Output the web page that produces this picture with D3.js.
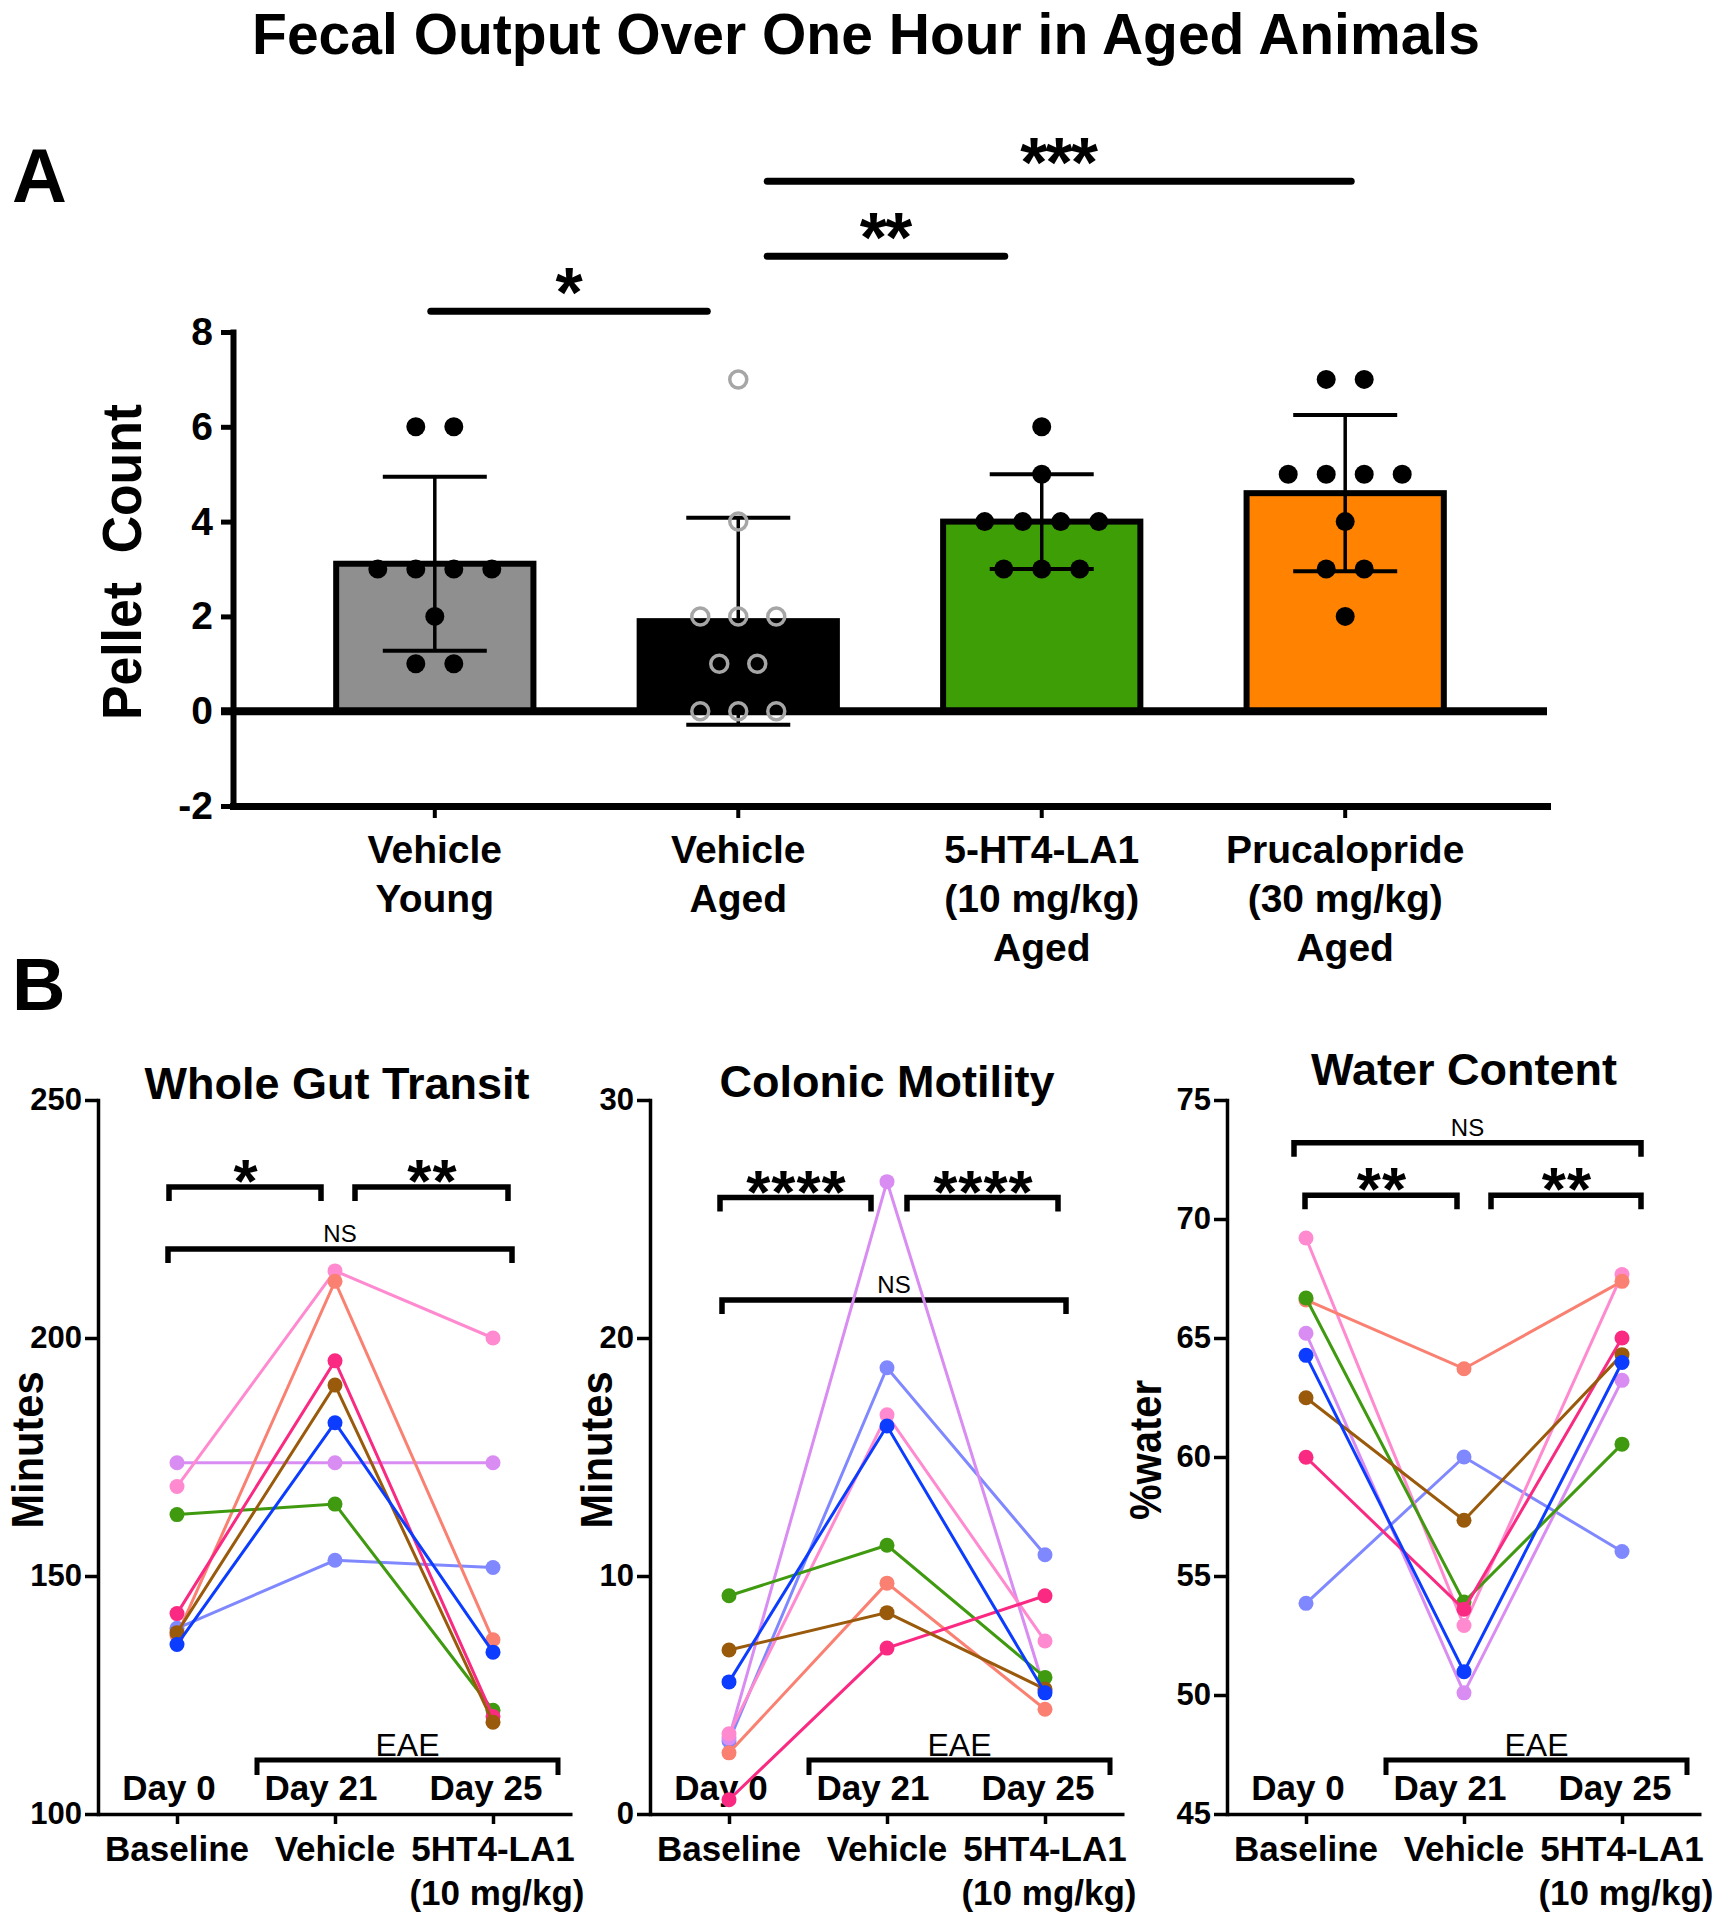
<!DOCTYPE html>
<html><head><meta charset="utf-8">
<script src="https://cdn.jsdelivr.net/npm/d3@7"></script>
<style>
body{margin:0;background:#fff}
svg{display:block}
text{font-family:"Liberation Sans",Arial,Helvetica,sans-serif;fill:#000}
</style>
</head><body>
<svg id="c" width="1729" height="1920"></svg>
<script>
// ---------------- Panel A data ----------------
const groupLabels = [["Vehicle","Young"],["Vehicle","Aged"],["5-HT4-LA1","(10 mg/kg)","Aged"],["Prucalopride","(30 mg/kg)","Aged"]];
const groupFills = ["#8f8f8f","#000000","#3d9e05","#ff8200"];
const youngPellets = [6,6,3,3,3,3,2,1,1];
const agedPellets = [7,4,2,2,2,1,1,0,0,0];
const la1Pellets = [6,5,4,4,4,4,3,3,3];
const prucPellets = [7,7,5,5,5,5,4,3,3,2];
const pelletTicks = [-2,0,2,4,6,8];
const sigALabels = ["*","**","***"];
const sigAFrom = [0,1,1];
const sigATo = [1,2,3];
const sigALevel = [8.44,9.6,11.18];

// ---------------- Panel B data ----------------
const timepoints = ["Baseline","Vehicle","5HT4-LA1"];
const dayLabels = ["Day 0","Day 21","Day 25"];
const animals = ["periwinkle","violet","lightPink","salmon","green","deepPink","brown","blue"];
const animalColors = ["#8088ff","#d98cf2","#ff8ad0","#fa8072","#3f9a10","#fa2a82","#9a5a0c","#0b3cff"];
const transitBaseline = [139.0,173.8,168.8,137.5,162.9,142.1,138.1,135.6];
const transitVehicle  = [153.3,173.8,214.1,211.9,165.1,195.2,190.1,182.2];
const transitLA1      = [151.8,173.8,200.0,136.6,121.8,120.5,119.3,134.0];
const motilityBaseline = [3.07,3.2,3.37,2.57,9.17,0.6,6.89,5.55];
const motilityVehicle  = [18.75,26.57,16.77,9.7,11.29,6.97,8.46,16.3];
const motilityLA1      = [10.89,5.2,7.27,4.4,5.74,9.17,5.25,5.09];
const waterBaseline = [53.85,65.2,69.2,66.6,66.68,59.99,62.49,64.27];
const waterVehicle  = [60.0,50.09,52.92,63.71,53.91,53.6,57.34,50.98];
const waterLA1      = [56.03,63.22,67.67,67.38,60.54,65.0,64.3,63.97];
const transitTicks = [100,150,200,250];
const motilityTicks = [0,10,20,30];
const waterTicks = [45,50,55,60,65,70,75];

// ---------------- drawing ----------------
const svg = d3.select("#c");
svg.append("rect").attr("width",1729).attr("height",1920).attr("fill","#fff");

svg.append("text").attr("x",866).attr("y",54).attr("text-anchor","middle")
  .attr("font-size",57).attr("font-weight","bold").text("Fecal Output Over One Hour in Aged Animals");
svg.append("text").attr("x",12).attr("y",202).attr("font-size",76).attr("font-weight","bold").text("A");
svg.append("text").attr("x",12).attr("y",1010).attr("font-size",74).attr("font-weight","bold").text("B");

// ===== Panel A =====
const groups = [youngPellets, agedPellets, la1Pellets, prucPellets];
const xA = d3.scaleBand().domain(d3.range(4)).range([233,1547]).paddingInner(0.35).paddingOuter(0.34);
const yA = d3.scaleLinear().domain([-2,8]).range([806,332]);
const gA = svg.append("g");

// axes
const yAxisA = gA.append("g").attr("transform","translate(233,0)")
  .call(d3.axisLeft(yA).tickValues(pelletTicks).tickFormat(d=>String(d)).tickSize(12).tickSizeOuter(0).tickPadding(8));
yAxisA.select(".domain").attr("stroke-width",6).attr("stroke-linecap","square");
yAxisA.selectAll(".tick line").attr("stroke-width",5);
yAxisA.selectAll(".tick text").attr("font-size",39).attr("font-weight","bold").attr("font-family",null);

const xAxisA = gA.append("g").attr("transform","translate(0,806)")
  .call(d3.axisBottom(xA).tickSize(12).tickSizeOuter(0).tickFormat(""));
xAxisA.select(".domain").attr("stroke-width",7).attr("stroke-linecap","square");
xAxisA.selectAll(".tick line").attr("stroke-width",4);
groups.forEach((g,i)=>{
  const t = gA.append("text").attr("text-anchor","middle").attr("font-size",39).attr("font-weight","bold");
  groupLabels[i].forEach((s,j)=>{
    t.append("tspan").attr("x",xA(i)+xA.bandwidth()/2).attr("y",863+j*49).text(s);
  });
});

// bars
const stats = groups.map(g=>({mean:d3.mean(g), sd:d3.deviation(g)}));
gA.selectAll("rect.bar").data(stats).join("rect").attr("class","bar")
  .attr("x",(d,i)=>xA(i)).attr("width",xA.bandwidth())
  .attr("y",d=>yA(d.mean)).attr("height",d=>yA(0)-yA(d.mean))
  .attr("fill",(d,i)=>groupFills[i]).attr("stroke","#000").attr("stroke-width",6);

// zero line
gA.append("line").attr("x1",221).attr("x2",1547).attr("y1",yA(0)).attr("y2",yA(0))
  .attr("stroke","#000").attr("stroke-width",8);

// error bars
stats.forEach((s,i)=>{
  const cx = xA(i)+xA.bandwidth()/2;
  gA.append("line").attr("x1",cx).attr("x2",cx).attr("y1",yA(s.mean+s.sd)).attr("y2",yA(s.mean-s.sd))
    .attr("stroke","#000").attr("stroke-width",3.5);
  [s.mean+s.sd, s.mean-s.sd].forEach(v=>{
    gA.append("line").attr("x1",cx-52).attr("x2",cx+52).attr("y1",yA(v)).attr("y2",yA(v))
      .attr("stroke","#000").attr("stroke-width",4);
  });
});

// points (beeswarm rows)
groups.forEach((g,i)=>{
  const cx = xA(i)+xA.bandwidth()/2;
  const byVal = d3.group(g, v=>v);
  byVal.forEach((arr,v)=>{
    arr.forEach((_,j)=>{
      const off = (j-(arr.length-1)/2)*38;
      const c = gA.append("circle").attr("cx",cx+off).attr("cy",yA(v)).attr("r", i===1?8.5:9.5);
      if(i===1){ c.attr("fill","none").attr("stroke","#a6a6a6").attr("stroke-width",3.5); }
      else { c.attr("fill","#000"); }
    });
  });
});

// significance bars A
const sigOffFrom = [-4,29,29];
const sigOffTo = [-31,-37,6];
sigALabels.forEach((lab,k)=>{
  const x1 = xA(sigAFrom[k])+xA.bandwidth()/2+sigOffFrom[k];
  const x2 = xA(sigATo[k])+xA.bandwidth()/2+sigOffTo[k];
  const y = yA(sigALevel[k]);
  gA.append("line").attr("x1",x1).attr("x2",x2).attr("y1",y).attr("y2",y)
    .attr("stroke","#000").attr("stroke-width",7).attr("stroke-linecap","round");
  gA.append("text").attr("x",(x1+x2)/2-1).attr("y",y+6).attr("text-anchor","middle")
    .attr("font-size",70).attr("font-weight","bold").attr("letter-spacing",-2).text(lab);
});

// Pellet Count label
svg.append("text").attr("transform","translate(141,562) rotate(-90)").attr("text-anchor","middle")
  .attr("font-size",56).attr("font-weight","bold").attr("textLength",316).attr("lengthAdjust","spacingAndGlyphs")
  .text("Pellet\u00a0\u00a0Count");

// ===== Panel B =====
const subplots = [
  {x0:98, title:"Whole Gut Transit", titleY:1099, titleX:337, yLabel:"Minutes", yLabelX:43, yLabelLen:157,
   domain:[100,250], ticks:transitTicks, vals:[transitBaseline,transitVehicle,transitLA1],
   brackets:[{a:0,b:1,da:-8,db:-14,v:231.7,lab:"*"},{a:1,b:2,da:20,db:15,v:231.7,lab:"**"},{a:0,b:2,da:-9,db:19,v:218.7,lab:"NS"}]},
  {x0:650, title:"Colonic Motility", titleY:1097, titleX:887, yLabel:"Minutes", yLabelX:612, yLabelLen:157,
   domain:[0,30], ticks:motilityTicks, vals:[motilityBaseline,motilityVehicle,motilityLA1],
   brackets:[{a:0,b:1,da:-9,db:-16,v:25.9,lab:"****"},{a:1,b:2,da:20,db:13,v:25.9,lab:"****"},{a:0,b:2,da:-7,db:21,v:21.6,lab:"NS"}]},
  {x0:1227, title:"Water Content", titleY:1085, titleX:1464, yLabel:"%water", yLabelX:1161, yLabelLen:140,
   domain:[45,75], ticks:waterTicks, vals:[waterBaseline,waterVehicle,waterLA1],
   brackets:[{a:0,b:2,da:-12,db:19,v:73.2,lab:"NS"},{a:0,b:1,da:-1,db:-7,v:71.0,lab:"**"},{a:1,b:2,da:27,db:19,v:71.0,lab:"**"}]}
];
const dayDx = [-8,-14,-7];

subplots.forEach(sp=>{
  const g = svg.append("g");
  const y = d3.scaleLinear().domain(sp.domain).range([1814,1100]);
  const x = d3.scalePoint().domain(timepoints).range([sp.x0, sp.x0+474]).padding(0.5);

  g.append("text").attr("x",sp.titleX).attr("y",sp.titleY).attr("text-anchor","middle")
    .attr("font-size",45).attr("font-weight","bold").text(sp.title);

  const ya = g.append("g").attr("transform",`translate(${sp.x0},0)`)
    .call(d3.axisLeft(y).tickValues(sp.ticks).tickFormat(d=>String(d)).tickSize(13).tickSizeOuter(0).tickPadding(3));
  ya.select(".domain").attr("stroke-width",3.5).attr("stroke-linecap","square");
  ya.selectAll(".tick line").attr("stroke-width",3.5);
  ya.selectAll(".tick text").attr("font-size",31).attr("font-weight","bold").attr("font-family",null);

  const xa = g.append("g").attr("transform","translate(0,1814)")
    .call(d3.axisBottom(x).tickSize(10).tickSizeOuter(0).tickFormat(""));
  xa.select(".domain").attr("stroke-width",3.5);
  xa.selectAll(".tick line").attr("stroke-width",3.5);

  // tick labels
  timepoints.forEach((tp,i)=>{
    g.append("text").attr("x",x(tp)).attr("y",1861).attr("text-anchor","middle")
      .attr("font-size",35).attr("font-weight","bold").text(tp);
  });
  g.append("text").attr("x",x(timepoints[2])+4).attr("y",1905).attr("text-anchor","middle")
    .attr("font-size",35).attr("font-weight","bold").text("(10 mg/kg)");

  // day labels
  dayLabels.forEach((d,i)=>{
    g.append("text").attr("x",x(timepoints[i])+dayDx[i]).attr("y",1800).attr("text-anchor","middle")
      .attr("font-size",35).attr("font-weight","bold").text(d);
  });

  // EAE bracket
  const ex1 = x(timepoints[1])-78, ex2 = x(timepoints[2])+65;
  g.append("path").attr("d",`M${ex1},1775V1760H${ex2}V1775`).attr("fill","none")
    .attr("stroke","#000").attr("stroke-width",5);
  g.append("text").attr("x",(ex1+ex2)/2).attr("y",1756).attr("text-anchor","middle")
    .attr("font-size",32).text("EAE");

  // y label
  g.append("text").attr("transform",`translate(${sp.yLabelX},1450) rotate(-90)`).attr("text-anchor","middle")
    .attr("font-size",45).attr("font-weight","bold").attr("textLength",sp.yLabelLen).attr("lengthAdjust","spacingAndGlyphs")
    .text(sp.yLabel);

  // brackets
  sp.brackets.forEach(b=>{
    const x1 = x(timepoints[b.a])+b.da, x2 = x(timepoints[b.b])+b.db, yy = y(b.v);
    g.append("path").attr("d",`M${x1},${yy+14}V${yy}H${x2}V${yy+14}`).attr("fill","none")
      .attr("stroke","#000").attr("stroke-width",5.5);
    if(b.lab==="NS"){
      g.append("text").attr("x",(x1+x2)/2).attr("y",yy-7).attr("text-anchor","middle")
        .attr("font-size",24).text("NS");
    } else {
      g.append("text").attr("x",(x1+x2)/2+1).attr("y",yy+15).attr("text-anchor","middle")
        .attr("font-size",62).attr("font-weight","bold").attr("letter-spacing",1).text(b.lab);
    }
  });

  // lines + points
  const line = d3.line().x(d=>x(d[0])).y(d=>y(d[1]));
  animals.forEach((a,k)=>{
    const pts = timepoints.map((tp,i)=>[tp, sp.vals[i][k]]);
    g.append("path").attr("d",line(pts)).attr("fill","none").attr("stroke",animalColors[k]).attr("stroke-width",3);
    g.selectAll(null).data(pts).join("circle").attr("cx",d=>x(d[0])).attr("cy",d=>y(d[1])).attr("r",7.5)
      .attr("fill",animalColors[k]);
  });
});
</script>
</body></html>
